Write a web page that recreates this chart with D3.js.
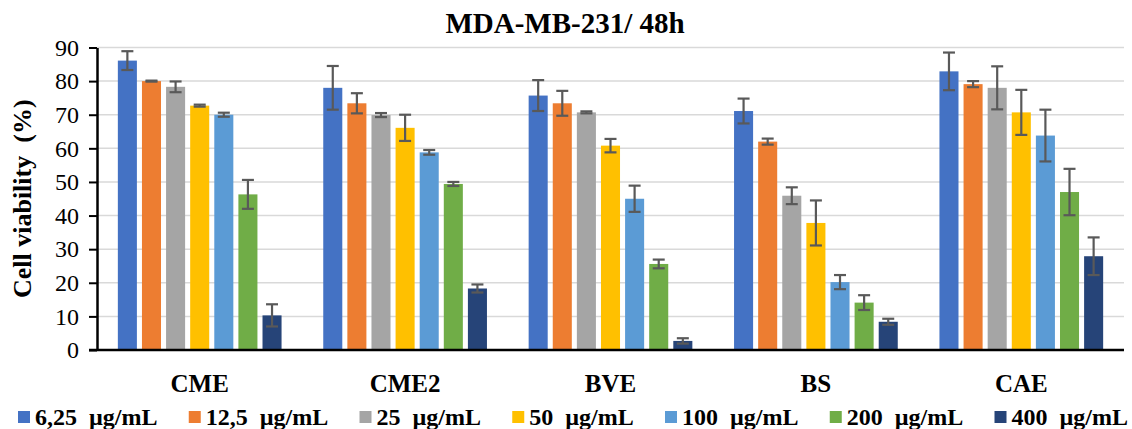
<!DOCTYPE html>
<html>
<head>
<meta charset="utf-8">
<script src="https://cdn.jsdelivr.net/npm/d3@7"></script>
<style>
  body { margin: 0; background: #fff; }
  text { font-family: "Liberation Serif", "Times New Roman", Times, "DejaVu Serif", serif; fill: #000; white-space: pre; }
</style>
</head>
<body>
<div id="chart"></div>
<script>
// data
var categories = ['CME', 'CME2', 'BVE', 'BS', 'CAE'];
var seriesNames = ['6,25  µg/mL', '12,5  µg/mL', '25  µg/mL', '50  µg/mL', '100  µg/mL', '200  µg/mL', '400  µg/mL'];
var colors = ['#4472C4', '#ED7D31', '#A5A5A5', '#FFC000', '#5B9BD5', '#70AD47', '#264478'];

var v625 = [86.1, 78.0, 75.7, 71.1, 82.9];
var v125 = [80.0, 73.4, 73.4, 62.0, 79.1];
var v25  = [78.3, 69.9, 70.7, 45.9, 78.0];
var v50  = [72.7, 66.1, 60.8, 37.8, 70.7];
var v100 = [70.0, 58.8, 45.0, 20.2, 63.8];
var v200 = [46.3, 49.4, 25.6, 14.1, 47.0];
var v400 = [10.3, 18.3, 2.7, 8.4, 27.9];

var e625 = [2.8, 6.5, 4.6, 3.7, 5.6];
var e125 = [0.15, 3.0, 3.7, 0.9, 0.9];
var e25  = [1.6, 0.6, 0.3, 2.5, 6.4];
var e50  = [0.3, 3.9, 2.0, 6.7, 6.7];
var e100 = [0.6, 0.7, 3.9, 2.1, 7.7];
var e200 = [4.3, 0.6, 1.3, 2.2, 6.9];
var e400 = [3.3, 1.2, 0.8, 0.9, 5.6];

var yTicks = [0, 10, 20, 30, 40, 50, 60, 70, 80, 90];

var values = [v625, v125, v25, v50, v100, v200, v400];
var errors = [e625, e125, e25, e50, e100, e200, e400];

var W = 1132, H = 429;
var plotLeft = 97, plotRight = 1124, plotTop = 47.5, plotBottom = 350;

var svg = d3.select('#chart').append('svg')
    .attr('width', W).attr('height', H);
svg.append('rect').attr('width', W).attr('height', H).attr('fill', '#fff');

var y = d3.scaleLinear().domain([0, 90]).range([plotBottom, plotTop]);
var x0 = d3.scaleBand().domain(categories).range([plotLeft, plotRight])
    .paddingInner(0.203).paddingOuter(0.1015);
var x1 = d3.scaleBand().domain(d3.range(seriesNames.length))
    .range([0, x0.bandwidth()]).paddingInner(0.21).paddingOuter(0);

// gridlines
svg.append('g').selectAll('line')
    .data(yTicks.filter(function(t) { return t > 0; }))
    .enter().append('line')
    .attr('x1', plotLeft).attr('x2', plotRight)
    .attr('y1', function(d) { return y(d); })
    .attr('y2', function(d) { return y(d); })
    .attr('stroke', '#d9d9d9').attr('stroke-width', 1.5);

// title
svg.append('text')
    .attr('x', 565).attr('y', 33)
    .attr('text-anchor', 'middle')
    .style('font-size', '29px').style('font-weight', 'bold')
    .text('MDA-MB-231/ 48h');

// bars
var rows = [];
values.forEach(function(vals, s) {
    vals.forEach(function(v, c) {
        rows.push({ s: s, c: categories[c], v: v, e: errors[s][c] });
    });
});

var bars = svg.append('g');
bars.selectAll('rect').data(rows).enter().append('rect')
    .attr('x', function(d) { return x0(d.c) + x1(d.s); })
    .attr('y', function(d) { return y(d.v); })
    .attr('width', x1.bandwidth())
    .attr('height', function(d) { return plotBottom - y(d.v); })
    .attr('fill', function(d) { return colors[d.s]; });

// error bars
var eb = svg.append('g').attr('stroke', '#595959').attr('stroke-width', 2.2);
var cap = 6;
rows.forEach(function(d) {
    var cx = x0(d.c) + x1(d.s) + x1.bandwidth() / 2;
    var y1 = y(d.v + d.e), y2 = y(d.v - d.e);
    eb.append('line').attr('x1', cx).attr('x2', cx).attr('y1', y1).attr('y2', y2);
    eb.append('line').attr('x1', cx - cap).attr('x2', cx + cap).attr('y1', y1).attr('y2', y1);
    eb.append('line').attr('x1', cx - cap).attr('x2', cx + cap).attr('y1', y2).attr('y2', y2);
});

// y axis
var yAxis = svg.append('g')
    .attr('transform', 'translate(' + plotLeft + ',0)')
    .call(d3.axisLeft(y).tickValues(yTicks).tickSize(8).tickPadding(10).tickSizeOuter(0));
yAxis.attr('font-family', null);
yAxis.select('.domain').attr('stroke', '#000').attr('stroke-width', 2.5);
yAxis.selectAll('.tick line').attr('stroke', '#000').attr('stroke-width', 2);
yAxis.selectAll('.tick text')
    .style('font-size', '24px')
    .attr('fill', '#000');

// x axis
var xAxis = svg.append('g')
    .attr('transform', 'translate(0,' + plotBottom + ')')
    .call(d3.axisBottom(x0).tickSize(0));
xAxis.attr('font-family', null);
xAxis.select('.domain').remove();
xAxis.selectAll('.tick text')
    .attr('y', 42).attr('dy', 0)
    .style('font-size', '25px').style('font-weight', 'bold')
    .attr('fill', '#000');
svg.append('line')
    .attr('x1', plotLeft - 8).attr('x2', plotRight)
    .attr('y1', plotBottom).attr('y2', plotBottom)
    .attr('stroke', '#000').attr('stroke-width', 2.5);

// y label
svg.append('text')
    .attr('transform', 'translate(31,' + ((plotTop + plotBottom) / 2) + ') rotate(-90)')
    .attr('text-anchor', 'middle')
    .style('font-size', '26px').style('font-weight', 'bold')
    .text('Cell viability  (%)');

// legend
var legend = svg.append('g');
var items = legend.selectAll('g').data(seriesNames).enter().append('g');
items.append('rect')
    .attr('width', 12).attr('height', 12).attr('y', 411)
    .attr('fill', function(d, i) { return colors[i]; });
items.append('text')
    .attr('x', 17).attr('y', 425)
    .style('font-size', '24px').style('font-weight', 'bold')
    .text(function(d) { return d; });

var widths = [];
items.each(function() { widths.push(d3.select(this).select('text').node().getComputedTextLength()); });
var startX = 18, endX = 1128;
var used = d3.sum(widths) + widths.length * 17;
var gap = (endX - startX - used) / (widths.length - 1);
var pos = startX;
items.each(function(d, i) {
    d3.select(this).attr('transform', 'translate(' + pos + ',0)');
    pos += 17 + widths[i] + gap;
});
</script>
</body>
</html>
